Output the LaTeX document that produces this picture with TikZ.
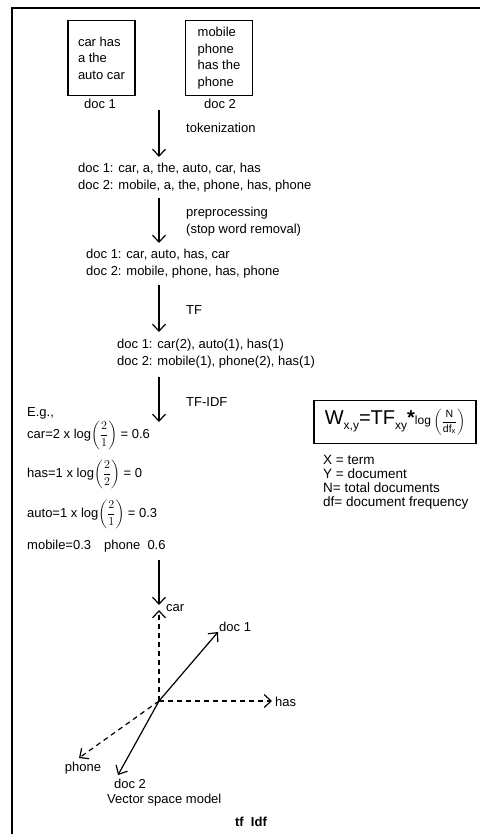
\documentclass[tikz,border=0pt]{standalone}
\usepackage{amsmath}
\usepackage{fontspec}
\setmainfont{Liberation Sans}
\usetikzlibrary{arrows.meta}
\newcommand{\lowsub}[1]{\raisebox{-4.5pt}{\fontsize{12}{12}\selectfont #1}}
\tikzset{
  lbl/.style={font=\fontsize{13}{17}\selectfont, inner sep=0pt},
  txt/.style={lbl, anchor=west, align=left},
  flow/.style={-{Straight Barb[length=7pt,width=13pt]}, line width=1.2pt},
  axisline/.style={flow, dash pattern=on 5pt off 4pt},
  docbox/.style={draw, line width=1.5pt, minimum width=67pt, minimum height=75pt,
    inner sep=0pt, align=left, font=\fontsize{13}{16.5}\selectfont},
  fbox/.style={draw, line width=1.3pt, minimum width=162pt, minimum height=43pt, inner sep=0pt}
}
\begin{document}
\begin{tikzpicture}[x=1pt,y=-1pt]
\useasboundingbox (0,0) rectangle (480,834);
% frame
\draw[line width=2pt] (480,8) -- (12,8) -- (12,834);
% documents
\node[docbox] (d1) at (101.5,58) {car has\\a the\\auto car};
\node[docbox] (d2) at (219,58) {mobile\\phone\\has the\\phone};
\node[lbl] (d1l) at (100,104) {doc 1};
\node[lbl] (d2l) at (220,104) {doc 2};
% step texts
\node[txt] (b1) at (78,177.5) {doc 1: car, a, the, auto, car, has\\doc 2: mobile, a, the, phone, has, phone};
\node[txt] (b2) at (86,263.5) {doc 1: car, auto, has, car\\doc 2: mobile, phone, has, phone};
\node[txt] (b3) at (117,354) {doc 1: car(2), auto(1), has(1)\\doc 2: mobile(1), phone(2), has(1)};
% arrows
\coordinate (a1s) at (159,110); \coordinate (a1e) at (159,157);
\coordinate (a2s) at (159,198); \coordinate (a2e) at (159,243);
\coordinate (a3s) at (159,285); \coordinate (a3e) at (159,332);
\coordinate (a4s) at (159,377); \coordinate (a4e) at (159,422);
\coordinate (a5s) at (159,560); \coordinate (a5e) at (159,605);
\draw[flow] (a1s) -- (a1e);
\draw[flow] (a2s) -- (a2e);
\draw[flow] (a3s) -- (a3e);
\draw[flow] (a4s) -- (a4e);
\draw[flow] (a5s) -- (a5e);
\node[txt] (l1) at (186,128) {tokenization};
\node[txt] (l2) at (186,221.5) {preprocessing\\(stop word removal)};
\node[txt] (l3) at (186,310) {TF};
\node[txt] (l4) at (186,402) {TF-IDF};
% examples
\node[txt] (eg) at (27,413) {E.g.,};
\node[txt] (ex1) at (27,435) {car=2 x log$\left(\dfrac{2}{1}\right)$ = 0.6};
\node[txt] (ex2) at (27,474) {has=1 x log$\left(\dfrac{2}{2}\right)$ = 0};
\node[txt] (ex3) at (27,514) {auto=1 x log$\left(\dfrac{2}{1}\right)$ = 0.3};
\node[txt] (ex4) at (27,546) {mobile=0.3\quad phone\ \ 0.6};
% formula
\node[fbox] (fm) at (395,422) {{\fontsize{20}{20}\selectfont W\lowsub{x,y}=TF\lowsub{xy}\textbf{*}}{\fontsize{12}{12}\selectfont log}\ {\fontsize{10.5}{10.5}\selectfont$\left(\dfrac{\mathrm{N}}{\mathrm{df}_{\mathrm{x}}}\right)$}};
\node[txt, font=\fontsize{13.5}{14}\selectfont] (leg) at (323,482.5) {X = term\\Y = document\\N= total documents\\df= document frequency};
% vector space
\coordinate (O) at (159,701);
\coordinate (carE) at (159,610);
\coordinate (hasE) at (272,701);
\coordinate (phE) at (79,758);
\coordinate (d1E) at (218,632);
\coordinate (d2E) at (118,775);
\draw[axisline] (O) -- (carE);
\draw[axisline] (O) -- (hasE);
\draw[axisline] (O) -- (phE);
\draw[flow] (O) -- (d1E);
\draw[flow] (O) -- (d2E);
\node[txt] (carL) at (166,608) {car};
\node[txt] (hasL) at (275,702) {has};
\node[lbl] (phL) at (83,768) {phone};
\node[txt] (d1L) at (219,627) {doc 1};
\node[lbl] (d2L) at (130,784) {doc 2};
\node[txt] (vsm) at (107,800) {Vector space model};
\node[lbl, font=\fontsize{13}{17}\selectfont\bfseries] (title) at (251,822) {tf\ \ Idf};
\end{tikzpicture}
\end{document}
